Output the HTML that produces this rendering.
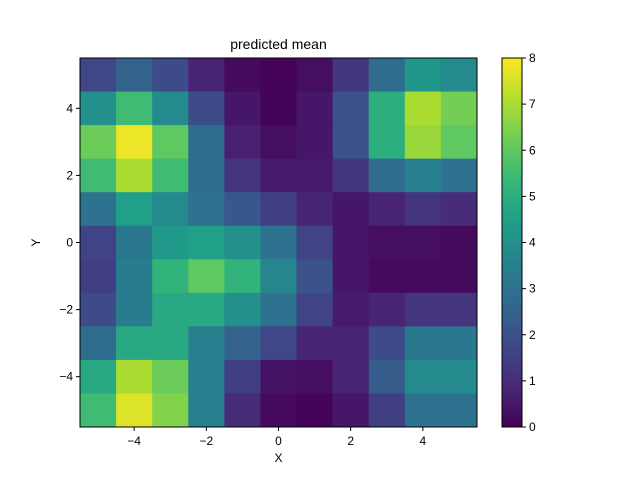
<!DOCTYPE html>
<html><head><meta charset="utf-8"><style>body{margin:0;background:#fff}svg{display:block;font-family:"Liberation Sans","DejaVu Sans",sans-serif}</style></head>
<body>
<svg id="c" width="640" height="480"></svg>
<script>
const xCats=[-5,-4,-3,-2,-1,0,1,2,3,4,5];
const yCats=[5,4,3,2,1,0,-1,-2,-3,-4,-5];
const row5=[1.7,2.5,1.8,0.8,0.2,0.05,0.3,1.3,2.8,4.2,3.8];
const row4=[4.0,5.5,3.8,1.8,0.5,0.1,0.5,2.0,5.0,7.0,6.3];
const row3=[6.2,7.8,6.0,2.8,0.7,0.3,0.5,2.0,5.0,6.8,6.0];
const row2=[5.5,7.0,5.5,2.8,1.2,0.6,0.6,1.3,2.8,3.5,3.0];
const row1=[3.0,4.5,3.8,3.0,2.2,1.5,0.8,0.5,0.8,1.2,1.0];
const row0=[1.6,3.2,4.3,4.5,4.0,3.0,1.6,0.5,0.3,0.3,0.2];
const rowm1=[1.5,3.3,5.2,6.0,5.2,3.7,2.0,0.5,0.2,0.2,0.2];
const rowm2=[1.8,3.3,4.8,4.8,4.0,3.0,1.6,0.6,0.8,1.2,1.2];
const rowm3=[2.8,4.8,4.8,3.5,2.5,1.7,0.8,0.8,1.8,3.2,3.2];
const rowm4=[4.8,7.0,6.2,3.5,1.5,0.4,0.3,0.8,2.3,3.8,3.8];
const rowm5=[5.5,7.6,6.5,3.5,1.0,0.2,0.1,0.5,1.5,3.0,3.0];
const values=[row5,row4,row3,row2,row1,row0,rowm1,rowm2,rowm3,rowm4,rowm5];
const xTicks=[-4,-2,0,2,4];
const yTicks=[-4,-2,0,2,4];
const cTicks=[0,1,2,3,4,5,6,7,8];
const vmin=0,vmax=8;

const L=80,R=477,T=58,B=427;
const sx=v=>L+(v+5.5)/11*(R-L);
const sy=v=>T+(5.5-v)/11*(B-T);
const VS=[[68,1,84],[72,40,120],[62,74,137],[49,104,142],[38,130,142],[31,158,137],[53,183,121],[109,205,89],[180,222,44],[253,231,37]];
function vir(t){t=Math.max(0,Math.min(1,t));const p=t*(VS.length-1),i=Math.min(Math.floor(p),VS.length-2),f=p-i;
const c=VS[i].map((a,k)=>Math.round(a+(VS[i+1][k]-a)*f));return`rgb(${c})`;}
const svg=document.getElementById('c');const NS='http://www.w3.org/2000/svg';
function el(t,a,p){const e=document.createElementNS(NS,t);for(const k in a)e.setAttribute(k,a[k]);(p||svg).appendChild(e);return e;}
function txt(x,y,s,anchor,size){const e=el('text',{x:x,y:y,'text-anchor':anchor||'middle','font-size':size||12,fill:'#000'});e.textContent=s;return e;}
const g=el('g',{});


yCats.forEach((yv,r)=>xCats.forEach((xv,c)=>{
 const x0=sx(xv-0.5),x1=sx(xv+0.5),y0=sy(yv+0.5),y1=sy(yv-0.5);
 const e=el('rect',{x:x0,y:y0,width:x1-x0+0.5,height:y1-y0+0.5,fill:vir((values[r][c]-vmin)/(vmax-vmin))},g);
 
 
}));
const fr=el('rect',{x:L,y:T,width:R-L,height:B-T,fill:'none',stroke:'#000','stroke-width':1});


xTicks.forEach(v=>{el('line',{x1:sx(v),x2:sx(v),y1:B,y2:B+4,stroke:'#000'});
 const t=txt(sx(v),B+18,v<0?'−'+(-v):String(v));});
yTicks.forEach(v=>{el('line',{x1:L-4,x2:L,y1:sy(v),y2:sy(v),stroke:'#000'});
 const t=txt(L-7,sy(v)+4,v<0?'−'+(-v):String(v),'end');});
let t=txt((L+R)/2,B+35,'X');
t=txt(40,(T+B)/2,'Y');t.setAttribute('transform',`rotate(-90 40 ${(T+B)/2})`);
t=txt((L+R)/2,T-9,'predicted mean','middle',14);
const CL=502,CR=522;
const defs=el('defs',{});const lg=el('linearGradient',{id:'vg',x1:0,y1:1,x2:0,y2:0},defs);
for(let i=0;i<=20;i++)el('stop',{offset:i/20,'stop-color':vir(i/20)},lg);
const cb=el('rect',{x:CL,y:T,width:CR-CL,height:B-T,fill:'url(#vg)',stroke:'#000','stroke-width':1});


const cy=v=>B-(v-vmin)/(vmax-vmin)*(B-T);
cTicks.forEach(v=>{el('line',{x1:CR,x2:CR+4,y1:cy(v),y2:cy(v),stroke:'#000'});
 const e=txt(CR+7,cy(v)+4,String(v),'start');});
</script>
</body></html>
